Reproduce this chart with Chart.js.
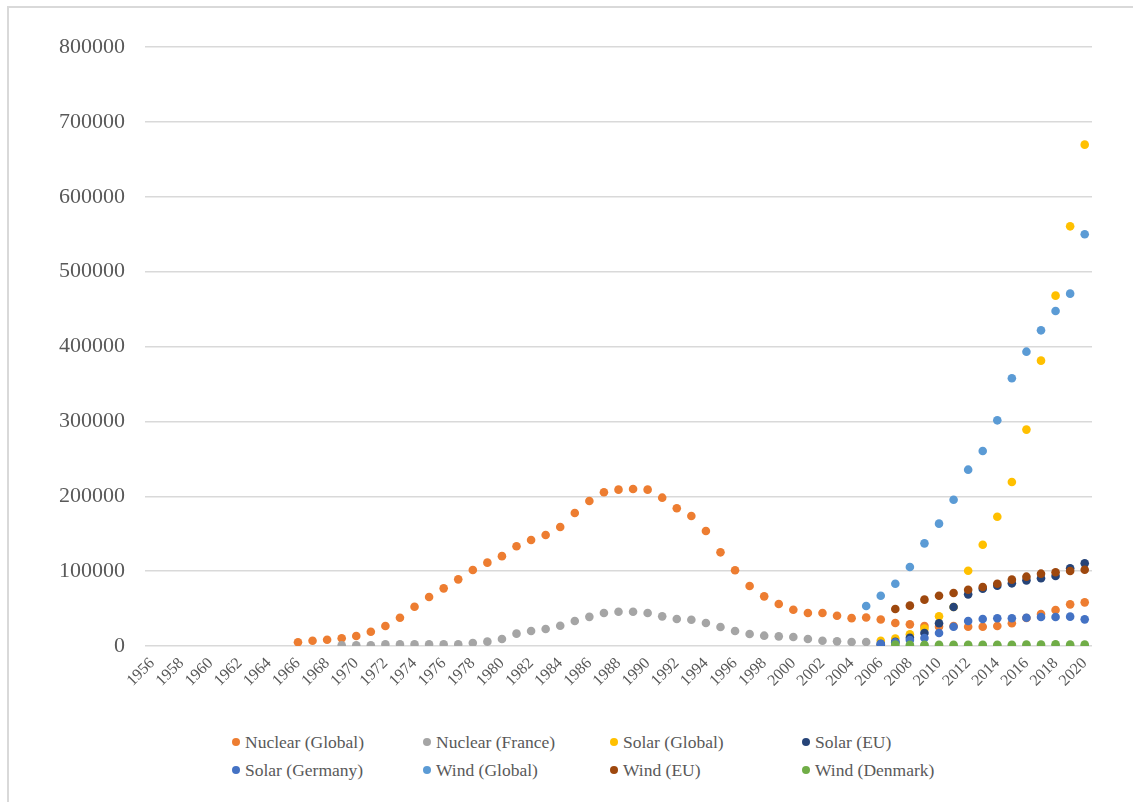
<!DOCTYPE html>
<html>
<head>
<meta charset="utf-8">
<script src="https://cdn.jsdelivr.net/npm/chart.js@4/dist/chart.umd.min.js"></script>
<style>
  html, body { margin: 0; padding: 0; background: #fff; }
  #wrap { position: relative; width: 1133px; height: 802px; overflow: hidden; background: #fff; }
  #frame { position: absolute; left: 7px; top: 6px; width: 1200px; height: 900px; border-left: 2px solid #d9d9d9; border-top: 2px solid #d9d9d9; box-sizing: border-box; }
  #c { position: absolute; left: 0; top: 0; }
  .lg { position: absolute; font-family: "Liberation Serif", serif; font-size: 17.5px; color: #595959; white-space: nowrap; line-height: 20px; }
  .lg .dot { position: absolute; left: -13px; top: 6px; width: 8px; height: 8px; border-radius: 50%; }
</style>
</head>
<body>
<div id="wrap">
  <div id="frame"></div>
  <canvas id="c" width="1133" height="700"></canvas>
  <div id="legend"></div>
</div>
<script>
const years = [1956,1957,1958,1959,1960,1961,1962,1963,1964,1965,1966,1967,1968,1969,1970,1971,1972,1973,1974,1975,1976,1977,1978,1979,1980,1981,1982,1983,1984,1985,1986,1987,1988,1989,1990,1991,1992,1993,1994,1995,1996,1997,1998,1999,2000,2001,2002,2003,2004,2005,2006,2007,2008,2009,2010,2011,2012,2013,2014,2015,2016,2017,2018,2019,2020];

const yTicks = [0,100000,200000,300000,400000,500000,600000,700000,800000];

// Each series: first year with data, then values year by year
const nuclearGlobalStart = 1966;
const nuclearGlobal = [5000,7000,8400,10300,13400,19100,26700,37800,52500,65400,
  77000,89000,101500,111300,120000,133300,141600,148300,158900,177600,
  193700,205300,208800,209700,208800,198100,183900,173600,153600,125100,
  101100,80100,66300,56100,48500,44100,44100,40500,37200,38000,
  35400,30700,28900,26700,25800,26700,25800,25800,26700,30300,
  37400,42700,48100,55600,58300];

const nuclearFranceStart = 1969;
const nuclearFrance = [900,900,900,2200,2200,2200,2200,2200,2200,4000,
  5800,9300,16500,20000,22700,27100,33400,38900,44100,45800,
  45800,44100,39600,36100,35100,30700,25400,20000,16000,13800,
  12900,12000,9300,7100,6200,5300,5300,300,300,300,
  300,300,300,300,300,300,300,300,300,300,300,300];

const solarGlobalStart = 2006;
const solarGlobal = [7100,9800,15600,23200,39600,52000,100600,135300,172700,219000,289000,381100,467900,560500,669600];

const solarEUStart = 2006;
const solarEU = [2500,5500,11100,17400,30300,52100,69000,76500,80600,83700,87700,90400,93500,103700,110400];

const solarGermanyStart = 2006;
const solarGermany = [3100,4900,8000,10700,17400,25800,33400,36100,37000,37000,37800,38700,38700,39200,35600];

const windGlobalStart = 2005;
const windGlobal = [53400,67200,83200,105500,137100,163400,195400,235500,260400,301400,357500,393100,421600,447400,470600,549900];

const windEUStart = 2007;
const windEU = [49400,53900,61900,67200,70800,75200,78800,83200,88600,92600,96600,98400,100200,101900];

const windDenmarkStart = 2007;
const windDenmark = [2000,1500,1500,1500,1500,1500,1500,1500,1600,1800,2000,2300,1800,1800];

const seriesNames = ["Nuclear (Global)","Nuclear (France)","Solar (Global)","Solar (EU)","Solar (Germany)","Wind (Global)","Wind (EU)","Wind (Denmark)"];
const seriesColors = ["#ED7D31","#A5A5A5","#FFC000","#264478","#4472C4","#5B9BD5","#9E480E","#70AD47"];
const seriesData = [
  [nuclearGlobalStart, nuclearGlobal],
  [nuclearFranceStart, nuclearFrance],
  [solarGlobalStart, solarGlobal],
  [solarEUStart, solarEU],
  [solarGermanyStart, solarGermany],
  [windGlobalStart, windGlobal],
  [windEUStart, windEU],
  [windDenmarkStart, windDenmark]
];

function alignToYears(start, vals) {
  return years.map(y => {
    const i = y - start;
    return (i >= 0 && i < vals.length) ? vals[i] : null;
  });
}

const n = seriesNames.length;
const datasets = seriesNames.map((name, i) => ({
  label: name,
  data: alignToYears(seriesData[i][0], seriesData[i][1]),
  showLine: false,
  pointRadius: 4.3,
  pointBorderWidth: 0,
  pointBackgroundColor: seriesColors[i],
  pointBorderColor: seriesColors[i],
  backgroundColor: seriesColors[i],
  borderColor: seriesColors[i],
  order: n - i
}));

const serif = "'Liberation Serif', 'DejaVu Serif', serif";

new Chart(document.getElementById('c'), {
  type: 'line',
  data: { labels: years.map(String), datasets },
  options: {
    responsive: false,
    animation: false,
    events: [],
    layout: { padding: { top: 47, right: 41, bottom: 0, left: 0 } },
    plugins: { legend: { display: false }, tooltip: { enabled: false } },
    scales: {
      x: {
        type: 'category',
        offset: true,
        grid: { display: false, drawTicks: false },
        border: { display: false },
        ticks: {
          autoSkip: false,
          minRotation: 45,
          maxRotation: 45,
          padding: 8,
          color: '#595959',
          font: { family: serif, size: 16 },
          callback: function(val, idx) { return idx % 2 === 0 ? this.getLabelForValue(val) : ''; }
        },
        afterFit: s => { s.height = 54; }
      },
      y: {
        min: 0,
        max: 800000,
        afterBuildTicks: s => { s.ticks = yTicks.map(v => ({ value: v })); },
        grid: { color: '#d9d9d9', lineWidth: 1.5, drawTicks: false },
        border: { display: false },
        ticks: {
          padding: 20,
          color: '#595959',
          font: { family: serif, size: 22 },
          callback: v => String(v)
        },
        afterFit: s => { s.width = 145; }
      }
    }
  }
});

// Legend (2 rows x 4 columns), built from series names and colours
const legendCols = [245, 436, 623, 815];
const legendRows = [732, 760];
const lg = document.getElementById('legend');
seriesNames.forEach((name, i) => {
  const d = document.createElement('div');
  d.className = 'lg';
  d.style.left = legendCols[i % 4] + 'px';
  d.style.top = legendRows[Math.floor(i / 4)] + 'px';
  const dot = document.createElement('span');
  dot.className = 'dot';
  dot.style.background = seriesColors[i];
  d.appendChild(dot);
  d.appendChild(document.createTextNode(name));
  lg.appendChild(d);
});
</script>
</body>
</html>
